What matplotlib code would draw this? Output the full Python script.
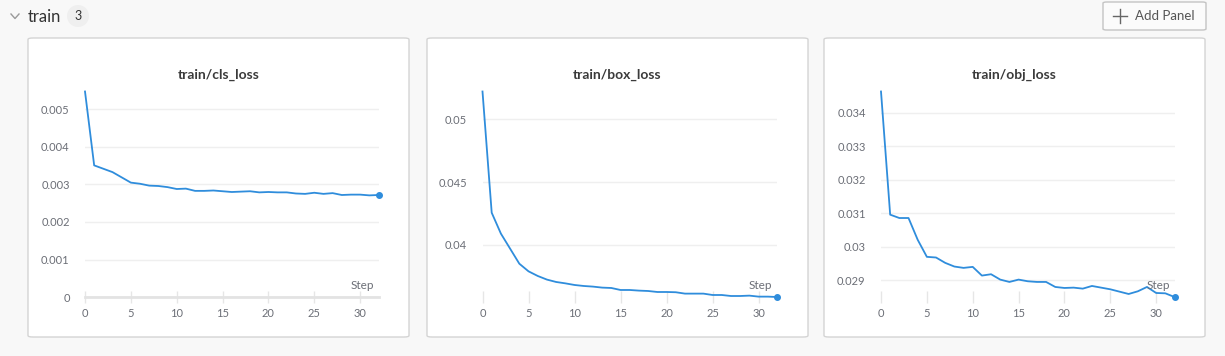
import matplotlib.pyplot as plt
import numpy as np
from matplotlib.patches import FancyBboxPatch, Ellipse
from matplotlib.ticker import MultipleLocator, FuncFormatter

# ---------------------------------------------
# Data
# ---------------------------------------------
steps = list(range(33))

cls_loss = [0.00548, 0.00351, 0.00342, 0.00333, 0.00319, 0.00305, 0.00302, 0.00297,
            0.00296, 0.00293, 0.00288, 0.00289, 0.00283, 0.00283, 0.00284, 0.00282,
            0.00280, 0.00281, 0.00282, 0.00279, 0.00280, 0.00279, 0.00279, 0.00276,
            0.00275, 0.00278, 0.00275, 0.00277, 0.00272, 0.00273, 0.00273, 0.00271,
            0.00272]

box_loss = [0.05223, 0.04255, 0.04088, 0.03968, 0.03848, 0.03787, 0.03750, 0.03721,
            0.03702, 0.03691, 0.03678, 0.03670, 0.03665, 0.03657, 0.03654, 0.03638,
            0.03638, 0.03633, 0.03630, 0.03622, 0.03622, 0.03620, 0.03609, 0.03609,
            0.03609, 0.03598, 0.03598, 0.03590, 0.03590, 0.03593, 0.03585, 0.03585,
            0.03582]

obj_loss = [0.03464, 0.03096, 0.03086, 0.03086, 0.03021, 0.02970, 0.02968, 0.02952,
            0.02941, 0.02937, 0.02940, 0.02914, 0.02918, 0.02902, 0.02895, 0.02902,
            0.02897, 0.02895, 0.02895, 0.02880, 0.02877, 0.02878, 0.02875, 0.02883,
            0.02878, 0.02873, 0.02866, 0.02859, 0.02867, 0.02880, 0.02862, 0.02861,
            0.02850]

titles = ["train/cls_loss", "train/box_loss", "train/obj_loss"]
series = [cls_loss, box_loss, obj_loss]
y_steps = [0.001, 0.005, 0.001]

# ---------------------------------------------
# Layout (pixels)
# ---------------------------------------------
W, H = 1225, 356
BG = '#f8f8f8'
LINE = '#2f8ddc'
TXT = '#6b6e76'

plt.rcParams['font.family'] = ['Lato', 'DejaVu Sans']

fig = plt.figure(figsize=(W / 100, H / 100), dpi=100, facecolor=BG)


def fx(px):
    return px / W


def fy(py):
    return 1 - py / H


# panels: (left, right) in px, top/bottom shared
panels = [(28, 409), (427, 808), (824, 1205)]
panel_top, panel_bot = 38, 337
axes_x = [(85, 378.5), (482.5, 777), (881, 1174.5)]
ax_top, ax_bot = 91.5, 297

for (pl, pr) in panels:
    box = FancyBboxPatch((fx(pl), fy(panel_bot)), fx(pr - pl), (panel_bot - panel_top) / H,
                         boxstyle="round,pad=0,rounding_size=0.004",
                         transform=fig.transFigure, facecolor='white',
                         edgecolor='#d4d4d4', linewidth=1.0, zorder=-5)
    fig.patches.append(box)

for i, (title, vals) in enumerate(zip(titles, series)):
    l, r = axes_x[i]
    ax = fig.add_axes([fx(l), fy(ax_bot), fx(r - l), (ax_bot - ax_top) / H])
    ax.set_zorder(2)
    ax.set_facecolor('none')
    ax.plot(steps, vals, color=LINE, linewidth=1.3, clip_on=False, zorder=3)
    ax.plot(steps[-1], vals[-1], 'o', color=LINE, markersize=4, clip_on=False, zorder=4)

    ax.set_xlim(0, 32)
    if i == 0:
        ax.set_ylim(0, max(vals))
    else:
        ax.set_ylim(min(vals), max(vals))

    ax.xaxis.set_major_locator(MultipleLocator(5))
    ax.yaxis.set_major_locator(MultipleLocator(y_steps[i]))
    ax.yaxis.set_major_formatter(FuncFormatter(lambda v, p: f"{round(v, 6):g}"))

    for s in ['top', 'right', 'left']:
        ax.spines[s].set_visible(False)
    if i == 0:
        ax.spines['bottom'].set_color('#e3e3e3')
        ax.spines['bottom'].set_linewidth(2)
    else:
        ax.spines['bottom'].set_visible(False)

    ax.grid(axis='y', color='#efefef', linewidth=1)
    ax.set_axisbelow(True)
    ax.tick_params(axis='y', length=0, pad=11, labelsize=8, labelcolor=TXT)
    ax.tick_params(axis='x', direction='inout', length=8, width=1, color='#e6e6e6',
                   pad=4, labelsize=8, labelcolor=TXT)

    ax.text(0.985, 0.03, "Step", transform=ax.transAxes, ha='right', va='bottom',
            fontsize=8.5, color=TXT)

    pl, pr = panels[i]
    fig.text(fx((pl + pr) / 2), fy(75), title, ha='center', va='center',
             fontsize=10, fontweight='bold', color='#3b3b3b')

# ---------------------------------------------
# Header
# ---------------------------------------------
fig.lines.append(plt.Line2D([fx(11), fx(15), fx(19)], [fy(14), fy(18.5), fy(14)],
                            transform=fig.transFigure, color='#9a9a9a', linewidth=1))
fig.text(fx(28), fy(16.5), "train", ha='left', va='center', fontsize=12, color='#333333')
badge = Ellipse((fx(78), fy(16)), fx(22), 22 / H, transform=fig.transFigure,
                facecolor='#efefef', edgecolor='none')
fig.patches.append(badge)
fig.text(fx(78), fy(16.5), "3", ha='center', va='center', fontsize=9, color='#333333')

btn = FancyBboxPatch((fx(1103), fy(30)), fx(103), 28 / H,
                     boxstyle="round,pad=0,rounding_size=0.003",
                     transform=fig.transFigure, facecolor='#fbfbfb',
                     edgecolor='#c4c4c4', linewidth=1)
fig.patches.append(btn)
fig.lines.append(plt.Line2D([fx(1113), fx(1127)], [fy(16), fy(16)],
                            transform=fig.transFigure, color='#666666', linewidth=1))
fig.lines.append(plt.Line2D([fx(1120), fx(1120)], [fy(9), fy(23)],
                            transform=fig.transFigure, color='#666666', linewidth=1))
fig.text(fx(1135), fy(16.5), "Add Panel", ha='left', va='center', fontsize=9.5, color='#555555')

fig.savefig('out.png', dpi=100, facecolor=BG)
